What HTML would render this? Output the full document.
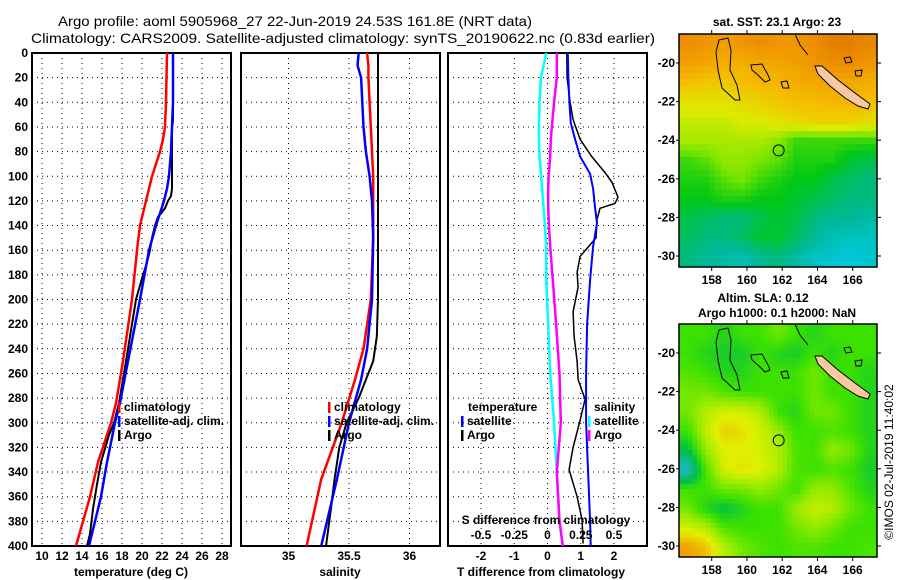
<!DOCTYPE html>
<html><head><meta charset="utf-8"><style>
body{margin:0;background:#fff}
svg{display:block}
text{font-family:"Liberation Sans",Arial,sans-serif;font-weight:bold;font-size:12px;fill:#000}
.t{font-weight:normal;font-size:14px}
</style></head><body>
<svg id="c" width="900" height="580" viewBox="0 0 900 580" xmlns="http://www.w3.org/2000/svg">
<text class="t" x="58" y="26" textLength="474" lengthAdjust="spacingAndGlyphs">Argo profile: aoml 5905968_27 22-Jun-2019 24.53S 161.8E (NRT data)</text>
<text class="t" x="31" y="43" textLength="624" lengthAdjust="spacingAndGlyphs">Climatology: CARS2009. Satellite-adjusted climatology: synTS_20190622.nc (0.83d earlier)</text>
<g id="p1"></g>
<g id="p2"></g>
<g id="p3"></g>
<g id="m1"></g>
<g id="m2"></g>
<text x="0" y="0" transform="translate(893,462) rotate(-90)" text-anchor="middle" style="font-weight:normal;font-size:12px">©IMOS 02-Jul-2019 11:40:02</text>
</svg>
<script>
// ---- data ----
const depthTicks=[0,20,40,60,80,100,120,140,160,180,200,220,240,260,280,300,320,340,360,380,400];
const tempTicks=[10,12,14,16,18,20,22,24,26,28];
const salTicks=[35,35.5,36];
const tdTicks=[-2,-1,0,1,2];
const sdTicks=[-0.5,-0.25,0,0.25,0.5];
const tempDepth=[0,20,40,60,70,80,90,100,110,120,130,140,160,200,250,284,300,332,360,400];
const tempClim=[22.5,22.45,22.4,22.3,22.1,21.8,21.4,21.0,20.7,20.4,20.1,19.8,19.5,19.0,18.1,17.4,16.9,15.6,14.8,13.4];
const tempSat=[23.1,23.1,23.1,23.0,22.95,22.9,22.8,22.7,22.5,22.2,21.8,21.4,20.7,19.8,18.6,17.8,17.3,16.5,15.9,14.7];
const argoDepth=[0,20,40,55,60,80,100,110,116,120,126,133,140,150,160,170,180,200,220,250,284,300,310,332,350,370,390,400];
const tempArgo=[23.1,23.1,23.1,23.1,23.0,23.0,23.0,23.0,22.9,22.6,22.3,21.6,21.3,21.0,20.8,20.5,20.1,19.4,19.0,18.4,17.7,17.2,16.7,15.9,15.5,15.1,14.8,14.5];
const salDepth=[0,10,20,40,60,80,100,120,150,200,240,265,300,346,400];
const salClim=[35.65,35.66,35.66,35.67,35.68,35.69,35.7,35.7,35.7,35.68,35.62,35.55,35.44,35.27,35.15];
const salSat=[35.58,35.57,35.6,35.61,35.62,35.64,35.67,35.69,35.7,35.69,35.65,35.6,35.5,35.4,35.27];
const salArgoDepth=[0,50,100,150,200,230,250,265,280,300,320,346,370,400];
const salArgo=[35.74,35.74,35.74,35.74,35.74,35.73,35.7,35.64,35.58,35.48,35.42,35.38,35.35,35.31];
const diffDepth=[0,20,40,57,70,84,98,110,125,138,157,184,220,260,300,340,380,400];
const dTSat=[0.61,0.63,0.66,0.70,0.83,0.98,1.28,1.37,1.43,1.49,1.37,1.28,1.19,1.16,1.16,1.22,1.28,1.30];
const dSSat=[-0.01,-0.05,-0.06,-0.065,-0.065,-0.06,-0.05,-0.04,-0.03,-0.02,-0.01,-0.01,0.005,0.02,0.05,0.07,0.09,0.115];
const dSArgo=[0.07,0.07,0.05,0.035,0.025,0.02,0.01,0.005,0.005,0.01,0.02,0.04,0.065,0.09,0.1,0.07,0.09,0.115];
const dTArgoDepth=[0,20,40,54,70,84,97,105,117,122,126,135,150,165,178,190,210,230,250,265,281,298,320,338,360,379,398];
const dTArgo=[0.58,0.59,0.68,0.77,0.98,1.33,1.73,1.94,2.12,2.03,1.58,1.49,1.46,0.98,0.89,0.92,0.77,0.80,0.89,0.92,1.13,0.98,0.77,0.65,0.89,1.04,1.07];
const sstGrid=[
[24.6,24.5,24.4,24.5,24.6,24.5,24.5,24.6,24.8,24.8,24.7],
[24.4,24.3,24.2,24.2,24.3,24.3,24.4,24.5,24.6,24.6,24.5],
[24.0,23.9,23.9,24.0,24.1,24.1,24.2,24.3,24.3,24.3,24.2],
[23.6,23.6,23.6,23.7,23.8,23.9,24.0,24.0,24.1,24.1,24.0],
[23.4,23.4,23.4,23.5,23.5,23.6,23.7,23.8,23.8,23.8,23.7],
[23.3,23.3,23.3,23.3,23.3,23.2,22.9,22.9,22.9,22.9,22.9],
[22.9,23.0,23.2,23.2,23.1,23.0,22.8,22.8,22.8,22.6,22.5],
[22.8,22.8,23.0,23.1,22.9,22.8,22.7,22.7,22.5,22.4,22.3],
[22.7,22.7,22.8,22.8,22.7,22.7,22.6,22.5,22.4,22.3,22.3],
[22.5,22.4,22.3,22.3,22.5,22.6,22.5,22.3,22.2,22.2,22.1],
[22.4,22.3,22.3,22.4,22.6,22.6,22.4,22.2,22.0,21.9,21.9],
[22.3,22.2,22.1,22.0,22.2,22.3,22.1,21.9,21.8,21.7,21.8]];
const slaGrid=[
[0.05,0.05,0.03,0.05,0.05,0.08,0.05,0.03,0.05,0.05,0.05],
[0.05,0.03,0.02,0.02,0.05,0.03,0.02,0.05,0.03,0.05,0.05],
[0.06,0.05,0.03,0.03,0.05,0.05,0.05,0.08,0.05,0.05,0.03],
[0.08,0.08,0.06,0.05,0.05,0.05,0.05,0.08,0.05,0.05,0.03],
[0.08,0.12,0.14,0.14,0.12,0.05,0.03,0.08,0.08,0.05,0.03],
[0.05,0.13,0.17,0.16,0.14,0.10,0.05,0.05,0.06,0.05,0.03],
[0.00,0.10,0.15,0.15,0.14,0.12,0.06,0.05,0.10,0.08,0.03],
[-0.08,0.06,0.14,0.16,0.15,0.12,0.06,0.05,0.06,0.05,0.02],
[0.05,0.05,0.08,0.08,0.10,0.08,0.05,0.10,0.10,0.06,0.03],
[0.08,0.03,0.00,0.03,0.05,0.05,0.10,0.13,0.12,0.08,0.05],
[0.14,0.12,0.06,0.05,0.05,0.05,0.08,0.10,0.08,0.05,0.05],
[0.20,0.18,0.12,0.08,0.06,0.05,0.06,0.06,0.05,0.05,0.06]];
const lonTicks=[158,160,162,164,166];
const latTicks=[-20,-22,-24,-26,-28,-30];
const argoLon=161.8, argoLat=-24.53;

// ---- helpers ----
const NS='http://www.w3.org/2000/svg';
function mk(parent,tag,attrs){const e=document.createElementNS(NS,tag);for(const k in attrs)e.setAttribute(k,attrs[k]);parent.appendChild(e);return e;}
const top_=53,bot=546;
const yD=d=>top_+(d/400)*(bot-top_);
function txt(g,x,y,s,anchor,name){const t=mk(g,'text',{x:x,y:y,'text-anchor':anchor||'middle'});t.textContent=s;

return t;}
function panel(g,x0,x1,xs,ticks,fmt,name){
  depthTicks.forEach(d=>{const l=mk(g,'line',{x1:x0,x2:x1,y1:yD(d),y2:yD(d),stroke:'#000','stroke-dasharray':'1,4'});
  
  });
  ticks.forEach(v=>{const l=mk(g,'line',{x1:xs(v),x2:xs(v),y1:top_,y2:bot,stroke:'#000','stroke-dasharray':'1,4'});
  
  
  txt(g,xs(v),560,fmt(v),'middle','x-tick-label');});
  const r=mk(g,'rect',{x:x0,y:top_,width:x1-x0,height:bot-top_,fill:'none',stroke:'#000','stroke-width':2});
  
  
}
function line(g,xs,vals,depths,col,w,name){
  const pts=vals.map((v,i)=>xs(v).toFixed(1)+','+yD(depths[i]).toFixed(1)).join(' ');
  const p=mk(g,'polyline',{points:pts,fill:'none',stroke:col,'stroke-width':w,'stroke-linejoin':'miter'});
  
  
}
function legend(g,x,y,col,label,name){
  const r=mk(g,'rect',{x:x,y:y-9,width:2.5,height:11,fill:col});
  
  
  txt(g,x+6,y,label,'start',name);
}

// ---- panel 1 ----
const p1=document.getElementById('p1');
const xT=t=>42+(t-10)*10;
depthTicks.forEach(d=>txt(p1,28,yD(d)+4,String(d),'end','y-tick-label'));
panel(p1,32,231,xT,tempTicks,v=>String(v),'temperature');
line(p1,xT,tempClim,tempDepth,'#f00',2.5,'temp-climatology-line');
line(p1,xT,tempArgo,argoDepth,'#000',2,'temp-argo-line');
line(p1,xT,tempSat,tempDepth,'#00f',2.5,'temp-satellite-line');
legend(p1,118,411,'#f00','climatology','legend-climatology');
legend(p1,118,425,'#00f','satellite-adj. clim.','legend-satellite');
legend(p1,118,439,'#000','Argo','legend-argo');
txt(p1,131,576,'temperature (deg C)','middle','x-axis-title');

// ---- panel 2 ----
const p2=document.getElementById('p2');
const xS=s=>288.5+(s-35)*121;
panel(p2,241,440,xS,salTicks,v=>String(v),'salinity');
line(p2,xS,salClim,salDepth,'#f00',2.5,'sal-climatology-line');
line(p2,xS,salArgo,salArgoDepth,'#000',2,'sal-argo-line');
line(p2,xS,salSat,salDepth,'#00f',2.5,'sal-satellite-line');
legend(p2,328,411,'#f00','climatology','legend-climatology');
legend(p2,328,425,'#00f','satellite-adj. clim.','legend-satellite');
legend(p2,328,439,'#000','Argo','legend-argo');
txt(p2,340,576,'salinity','middle','x-axis-title');

// ---- panel 3 ----
const p3=document.getElementById('p3');
const xdT=t=>547.5+t*33.25;
const xdS=s=>547.5+s*133;
panel(p3,448,647,xdT,tdTicks,v=>String(v),'difference');
line(p3,xdS,dSSat,diffDepth,'#0ff',2.5,'sdiff-satellite-line');
line(p3,xdS,dSArgo,diffDepth,'#f0f',2.5,'sdiff-argo-line');
line(p3,xdT,dTArgo,dTArgoDepth,'#000',1.5,'tdiff-argo-line');
line(p3,xdT,dTSat,diffDepth,'#00f',2,'tdiff-satellite-line');
txt(p3,468,411,'temperature','start','legend-temperature-title');
legend(p3,461,425,'#00f','satellite','legend-t-satellite');
legend(p3,461,439,'#000','Argo','legend-t-argo');
txt(p3,594,411,'salinity','start','legend-salinity-title');
legend(p3,588,425,'#0ff','satellite','legend-s-satellite');
legend(p3,588,439,'#f0f','Argo','legend-s-argo');
txt(p3,546,524,'S difference from climatology','middle','s-axis-title');
sdTicks.forEach(v=>txt(p3,xdS(v),539,String(v),'middle','s-tick-label'));
txt(p3,541,576,'T difference from climatology','middle','x-axis-title');

// ---- maps ----
function sstCol(v){const s=[[21.7,[0,200,220]],[22.2,[0,184,150]],[22.7,[0,200,20]],[23.1,[120,230,0]],[23.5,[220,235,0]],[24.0,[245,190,0]],[24.5,[240,150,0]],[24.9,[225,120,0]]];return interp(s,v);}
function slaCol(v){const s=[[-0.1,[40,180,240]],[0,[0,190,70]],[0.05,[60,225,0]],[0.1,[150,235,0]],[0.15,[225,240,0]],[0.2,[240,160,0]]];return interp(s,v);}
function interp(s,v){if(v<=s[0][0])return 'rgb('+s[0][1]+')';for(let i=1;i<s.length;i++){if(v<=s[i][0]){const f=(v-s[i-1][0])/(s[i][0]-s[i-1][0]);const c=s[i-1][1].map((a,j)=>Math.round(a+(s[i][1][j]-a)*f));return 'rgb('+c+')';}}return 'rgb('+s[s.length-1][1]+')';}
function sample(grid,r,c){const R=grid.length-1,C=grid[0].length-1;r=Math.max(0,Math.min(R,r));c=Math.max(0,Math.min(C,c));const r0=Math.floor(r),c0=Math.floor(c),r1=Math.min(R,r0+1),c1=Math.min(C,c0+1),fr=r-r0,fc=c-c0;
 return grid[r0][c0]*(1-fr)*(1-fc)+grid[r0][c1]*(1-fr)*fc+grid[r1][c0]*fr*(1-fc)+grid[r1][c1]*fr*fc;}
function map(gid,y0,grid,colf,name,up){
  const g=document.getElementById(gid);
  const x0=679,x1=877,y1=y0+233;
  const lonX=l=>711.7+(l-158)*17.625;
  const latY=l=>y0+29+(-20-l)*19.3;
  const rows=grid.length*up,cols=grid[0].length*up,cw=(x1-x0)/cols,ch=(y1-y0)/rows;
  for(let i=0;i<rows;i++)for(let j=0;j<cols;j++){
    const v=sample(grid,(i+0.5)/up-0.5,(j+0.5)/up-0.5);
    const r=mk(g,'rect',{x:(x0+j*cw).toFixed(2),y:(y0+i*ch).toFixed(2),width:(cw+0.5).toFixed(2),height:(ch+0.5).toFixed(2),fill:colf(v)});
    
    }
  const land=mk(g,'g',{transform:'translate(0,'+(y0-34)+')'});
  const nc=mk(land,'polygon',{points:'815,66 822,66 838,80 855,93 870,104 868,109 858,106 845,98 830,86 818,74',fill:'#f8c8a0',stroke:'#000','stroke-width':1});
  
  
  const reefs=['M719,40 L728,38 L731,50 L730,70 L737,85 L740,100 L735,100 L722,88 L718,70 L716,52 Z','M751,65 L762,64 L768,75 L770,80 L765,82 L758,75 L752,70 Z','M795,34 L800,45 L808,55','M844,58 L850,57 L852,62 L846,63 Z','M855,71 L862,70 L861,76 L856,76 Z','M781,82 L787,81 L789,88 L783,88 Z'];
  reefs.forEach(d=>{const p=mk(land,'path',{d:d,fill:'none',stroke:'#000','stroke-width':1});
    
    });
  const c=mk(g,'circle',{cx:lonX(argoLon),cy:latY(argoLat),r:5.5,fill:'none',stroke:'#000','stroke-width':1});
  
  
  const fr=mk(g,'rect',{x:x0,y:y0,width:x1-x0,height:y1-y0,fill:'none',stroke:'#000','stroke-width':1.5});
  
  
  lonTicks.forEach(l=>{mk(g,'line',{x1:lonX(l),x2:lonX(l),y1:y1,y2:y1+4,stroke:'#000'});mk(g,'line',{x1:lonX(l),x2:lonX(l),y1:y0,y2:y0-4,stroke:'#000'});txt(g,lonX(l),y1+17,String(l),'middle','lon-tick-label');});
  latTicks.forEach(l=>{mk(g,'line',{x1:x1,x2:x1+4,y1:latY(l),y2:latY(l),stroke:'#000'});mk(g,'line',{x1:x0,x2:x0-3,y1:latY(l),y2:latY(l),stroke:'#000'});txt(g,675,latY(l)+4,String(l),'end','lat-tick-label');});
}
map('m1',34,sstGrid,sstCol,'sst',3);
map('m2',324,slaGrid,slaCol,'sla',4);
const m1=document.getElementById('m1'),m2=document.getElementById('m2');
txt(m1,777,26,'sat. SST: 23.1 Argo: 23','middle','sst-map-title');
txt(m2,763,302,'Altim. SLA: 0.12','middle','sla-map-title');
txt(m2,777,317,'Argo h1000: 0.1 h2000: NaN','middle','sla-map-subtitle');
</script>
</body></html>
